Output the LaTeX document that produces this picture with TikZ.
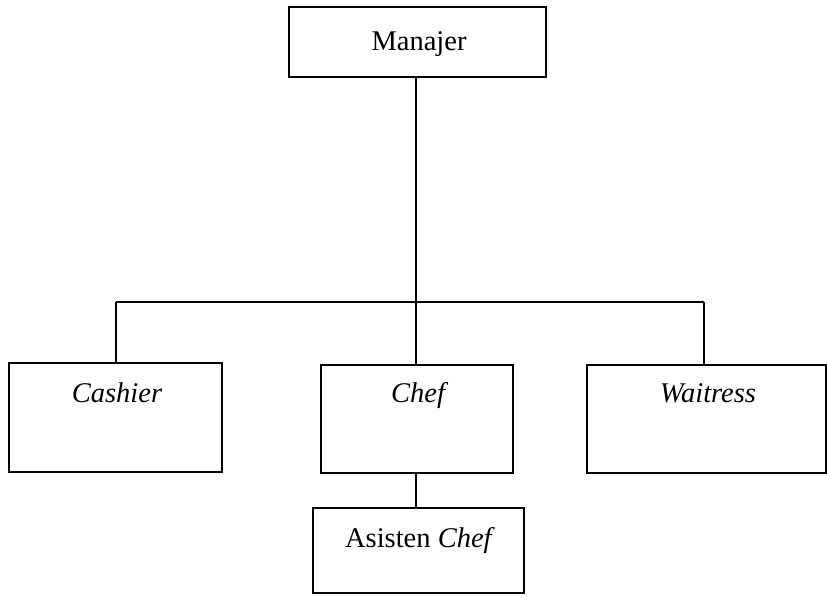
\documentclass[tikz,border=0pt]{standalone}
\usepackage{fontspec}
\setmainfont{Liberation Serif}
\begin{document}
\begin{tikzpicture}[x=1pt,y=-1pt,
  box/.style={draw=black,line width=1.6pt,rectangle,inner sep=0pt},
  lbl/.style={inner sep=0pt,anchor=base,font=\fontsize{28.5}{34}\selectfont},
  link/.style={draw=black,line width=1.6pt}]
\useasboundingbox (0,0) rectangle (827,597);
% boxes
\node[box,minimum width=257pt,minimum height=70pt] (man) at (417.5,42) {};
\node[box,minimum width=213pt,minimum height=109pt] (cash) at (115.5,417.5) {};
\node[box,minimum width=192pt,minimum height=108pt] (chef) at (417,419) {};
\node[box,minimum width=239pt,minimum height=108pt] (wait) at (706.5,419) {};
\node[box,minimum width=211pt,minimum height=85pt] (asis) at (418.5,550.5) {};
% labels
\node[lbl] (tman) at (419,50) {Manajer};
\node[lbl] (tcash) at (117,402) {\itshape Cashier};
\node[lbl] (tchef) at (418,402) {\itshape Chef};
\node[lbl] (twait) at (708,402) {\itshape Waitress};
\node[lbl] (tasis) at (420,547) {Asisten \textit{Chef}};
% connectors
\coordinate (jc) at (416,302);
\coordinate (jl) at (116,302);
\coordinate (jr) at (704,302);
\draw[link] (man.south -| jc) -- (jc);
\draw[link] (jl) -- (jr);
\draw[link] (jl) -- (jl |- cash.north);
\draw[link] (jc) -- (jc |- chef.north);
\draw[link] (jr) -- (jr |- wait.north);
\draw[link] (jc |- chef.south) -- (jc |- asis.north);
\end{tikzpicture}
\end{document}
